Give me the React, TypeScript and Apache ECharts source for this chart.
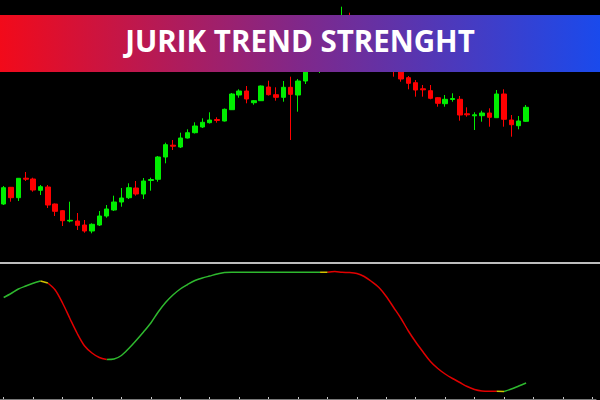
import React, { useEffect, useRef } from "react";
import * as echarts from "echarts";

// Price candles (relative price units), one per bar
const opens = [60, 76.7, 66.3, 85.8, 85, 73.7, 77, 60, 53.3, 43, 43, 39, 33, 39, 48, 54, 62, 66.3, 76, 70, 83.5, 84.7, 107, 118.8, 117, 126, 131.3, 137, 141.3, 144.5, 143, 154.3, 169, 173, 161.3, 163.3, 177, 169.3, 166.7, 176.7, 169, 183, 198, 202, 219, 214, 230, 246, 236, 226, 229, 216, 207, 202, 194, 186.3, 181.3, 175.2, 173.3, 166.3, 160.3, 164.5, 164.7, 150.2, 148.2, 148.3, 151, 146.3, 170, 144, 138.3, 142.7];
const closes = [76.3, 66.3, 85.7, 84.8, 74, 77.3, 59, 52.7, 43.3, 43.7, 38.7, 33, 39.7, 48, 55, 62, 66, 76.3, 70, 83, 84.5, 107, 119.3, 117.8, 126, 131.3, 138, 141.7, 144, 143.5, 154.7, 170, 173, 165, 163.3, 178, 169.3, 166.7, 176.7, 169.7, 183, 204, 209, 218, 209, 234, 248, 234, 224, 233, 214, 204, 197, 193, 185, 180.7, 174, 174.2, 165.7, 160.7, 164.7, 165.5, 149, 149.2, 149.2, 151, 146.7, 170, 144.7, 139.3, 143, 156.7];
const lows = [59, 62.3, 63, 83, 72.3, 69, 56, 48, 38, 41.7, 34, 31.3, 30.7, 38, 46.3, 53, 57.3, 65, 68.3, 65, 73.3, 82.3, 100.7, 114, 116, 125.5, 130.5, 136, 140.5, 141.3, 142.5, 154, 166.3, 160.7, 159.3, 163, 168.5, 163.3, 162.3, 124, 152.3, 180, 196, 191, 206, 212, 227, 231, 221, 222, 211, 201, 194, 187.3, 182.3, 174.7, 167.3, 167.3, 164.7, 157.3, 157.3, 162.3, 143.3, 147.3, 134, 142.3, 137.3, 146, 137.3, 127.3, 134.7, 142];
const highs = [78, 77, 86, 92, 86.3, 79, 79, 60.5, 54, 62.3, 51, 44, 40.7, 53, 59, 68.3, 76, 80.7, 83, 86, 86.3, 108, 121.3, 124, 131.3, 134.7, 141.7, 145.7, 151.7, 146.7, 155.5, 171, 174.7, 178, 164, 178.5, 183.3, 176.7, 183, 187.3, 185, 206, 212, 222, 224, 237, 257.3, 251.3, 240, 238, 232, 219, 210, 205, 197, 188, 184, 179, 179, 167, 169, 170.7, 168, 156.7, 151.7, 153.3, 155.7, 174, 174.7, 149, 148, 159];

// Jurik trend strength line, one value per bar
const strength = [102.5, 106.5, 111, 114, 116.7, 119, 117, 110, 97, 81.5, 66.5, 54, 47, 42.5, 40.5, 41, 44.5, 51.5, 59.5, 68, 77, 88, 97.5, 105, 111, 115.5, 119.5, 122, 124, 126, 127.5, 127.7, 127.7, 127.7, 127.7, 127.7, 127.7, 127.7, 127.7, 127.7, 127.7, 127.7, 127.7, 127.7, 127.7, 128.5, 127.7, 127.5, 126.5, 123.5, 118.5, 112.5, 103.5, 92.5, 81.5, 69, 58, 48, 38.5, 31.5, 26, 21.5, 17.5, 13.5, 10.5, 9, 8.7, 8.7, 8.5, 11, 14, 17];
// state of each segment i -> i+1 : "up", "flip", "down"
const segState = [
  "up", "up", "up", "up", "up", "flip",
  "down", "down", "down", "down", "down", "down", "down", "down",
  "up", "up", "up", "up", "up", "up", "up", "up", "up", "up", "up", "up", "up", "up", "up", "up", "up", "up", "up", "up", "up", "up", "up", "up", "up", "up", "up", "up", "up",
  "flip",
  "down", "down", "down", "down", "down", "down", "down", "down", "down", "down", "down", "down", "down", "down", "down", "down", "down", "down", "down", "down", "down", "down", "down",
  "flip",
  "up", "up", "up",
];

const TOTAL_SLOTS = 81;
const title = "JURIK TREND STRENGHT";

const stateColors: Record<string, string> = {
  up: "#2eb82e",
  down: "#e00000",
  flip: "#d2c200",
};

export default function App() {
  const ref = useRef<HTMLDivElement>(null);
  useEffect(() => {
    if (!ref.current) return;
    const chart = echarts.init(ref.current, null, { renderer: "svg" });
    const cats = Array.from({ length: TOTAL_SLOTS }, (_, i) => String(i + 1));
    const candleData = opens.map((o, i) => [o, closes[i], lows[i], highs[i]]);

    const lineSeries = Object.keys(stateColors).map((st) => {
      const data = strength.map((v, i) => {
        const before = i > 0 && segState[i - 1] === st;
        const after = i < segState.length && segState[i] === st;
        return before || after ? v : null;
      });
      return {
        type: "line",
        xAxisIndex: 1,
        yAxisIndex: 1,
        data,
        symbol: "none",
        smooth: 0.3,
        connectNulls: false,
        lineStyle: { color: stateColors[st], width: 1.5 },
        silent: true,
      };
    });

    chart.setOption({
      animation: false,
      backgroundColor: "#000000",
      grid: [
        { left: 0, right: 4, top: 0, height: 262 },
        { left: 0, right: 4, top: 265, height: 134 },
      ],
      xAxis: [
        {
          type: "category",
          gridIndex: 0,
          data: cats,
          boundaryGap: true,
          axisLine: { show: false },
          axisTick: { show: false },
          axisLabel: { show: false },
          splitLine: { show: false },
        },
        {
          type: "category",
          gridIndex: 1,
          data: cats,
          boundaryGap: true,
          axisLine: { show: true, lineStyle: { color: "#7a7a7a", width: 1 } },
          axisTick: {
            show: true,
            alignWithLabel: true,
            interval: 3,
            inside: true,
            length: 2,
            lineStyle: { color: "#c8c8c8" },
          },
          axisLabel: { show: false },
          splitLine: { show: false },
        },
      ],
      yAxis: [
        { type: "value", gridIndex: 0, min: 2, max: 264, show: false, splitLine: { show: false } },
        { type: "value", gridIndex: 1, min: 1, max: 135, show: false, splitLine: { show: false } },
      ],
      series: [
        {
          type: "candlestick",
          xAxisIndex: 0,
          yAxisIndex: 0,
          data: candleData,
          barWidth: 5,
          z: 2,
          itemStyle: {
            color: "#00ee00",
            color0: "#ff0000",
            borderColor: "#00ee00",
            borderColor0: "#ff0000",
            borderWidth: 1,
          },
          silent: true,
        },
        ...lineSeries,
      ],
      graphic: {
        elements: [
          {
            type: "rect",
            z: 50,
            shape: { x: 0, y: 262, width: 600, height: 2 },
            style: { fill: "#bdbdbd" },
          },
          {
            type: "rect",
            z: 100,
            shape: { x: 0, y: 15, width: 600, height: 57 },
            style: {
              fill: new echarts.graphic.LinearGradient(0, 0, 1, 0, [
                { offset: 0, color: "#f20a1a" },
                { offset: 0.5, color: "#80288a" },
                { offset: 1, color: "#1a4aec" },
              ]),
            },
          },
          {
            type: "text",
            z: 101,
            x: 300,
            y: 40,
            style: {
              text: title,
              fill: "#ffffff",
              font: "700 29.5px 'Open Sans'",
              align: "center",
              verticalAlign: "middle",
            },
          },
        ],
      },
    });
    return () => chart.dispose();
  }, []);
  return (
    <div
      ref={ref}
      style={{ position: "fixed", left: 0, top: 0, width: 600, height: 400, background: "#000" }}
    />
  );
}
